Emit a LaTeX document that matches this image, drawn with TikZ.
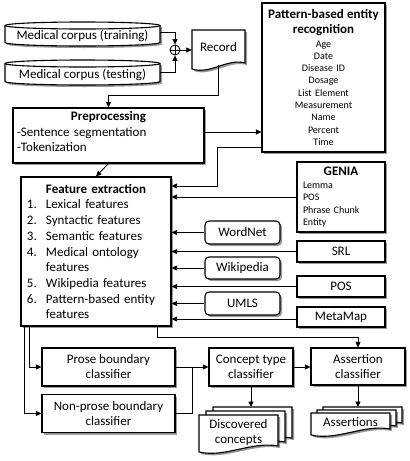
\documentclass[tikz,border=0pt]{standalone}
\usepackage{fontspec}
\setmainfont{Carlito}
\usetikzlibrary{arrows.meta,shadows,calc}
\tikzset{
  sh/.style={drop shadow={shadow xshift=2pt,shadow yshift=-2pt,opacity=0.4,fill=black}},
  box/.style={draw, line width=1.1pt, fill=white, sh, inner sep=0pt, font=\fontsize{13}{15}\selectfont, align=center},
  rbox/.style={box, rounded corners=4pt},
  arr/.style={line width=0.8pt, -{Triangle[length=5.5pt,width=5pt]}},
  ln/.style={line width=0.8pt},
  shp/.style={draw, line width=1.1pt, fill=white, sh},
  lbl/.style={inner sep=0pt, font=\fontsize{13}{15}\selectfont, align=center},
}
\newcommand\docfill[4]{\filldraw[shp] (#1,#2) -- (#3,#2) -- (#3,{#4-6}) .. controls ({#1+0.67*(#3-#1)},{#4-11}) and ({#1+0.33*(#3-#1)},{#4+6}) .. (#1,#4) -- cycle;}
\newcommand\cylfill[4]{%
  \filldraw[shp] (#1,{#2+3.5}) -- (#1,{#4-3.5}) arc[start angle=180,end angle=360,x radius={(#3-#1)/2*1pt},y radius=3.5pt] -- (#3,{#2+3.5}) arc[start angle=0,end angle=180,x radius={(#3-#1)/2*1pt},y radius=3.5pt] -- cycle;
  \draw[line width=1.1pt] (#1,{#2+3.5}) arc[start angle=180,end angle=360,x radius={(#3-#1)/2*1pt},y radius=3.5pt];}
\newcommand\ttl[1]{{\fontsize{13}{15}\selectfont\bfseries #1}}
\newcommand\itm[1]{\makebox[19pt][l]{#1}}
\begin{document}
\begin{tikzpicture}[x=1pt,y=-1pt]
\fill[white] (0,0) rectangle (410,461);
\useasboundingbox (0,0) rectangle (410,461);

% corpora
\cylfill{5}{22}{160}{46}
\node[lbl, minimum width=155pt, minimum height=24pt] (train) at (82.5,35.5) {Medical corpus (training)};
\cylfill{5}{60}{160}{85}
\node[lbl, minimum width=155pt, minimum height=25pt] (test) at (82.5,75) {Medical corpus (testing)};
\node[circle, draw, line width=0.9pt, minimum size=10pt, inner sep=0pt, fill=white] (sum) at (175,50) {};
\draw[line width=0.9pt] (sum.north) -- (sum.south) (sum.west) -- (sum.east);

% record
\docfill{192}{30}{245}{69}
\node[lbl, minimum width=53pt, minimum height=35pt] (rec) at (218.5,47.5) {Record};

% preprocessing
\node[box, minimum width=191pt, minimum height=55pt, text width=183pt, inner xsep=4pt, align=left, font=\fontsize{13}{15.5}\selectfont] (prep) at (108.5,135.5)
  {\makebox[183pt]{\bfseries Preprocessing}\\-Sentence segmentation\\-Tokenization\rule[-8pt]{0pt}{0pt}};

% pattern-based entity recognition
\node[box, minimum width=123pt, minimum height=149pt, text width=115pt, inner xsep=4pt, font=\fontsize{10}{12.3}\selectfont] (pat) at (323.5,77.5)
  {\ttl{Pattern-based entity}\\[2.7pt]\ttl{recognition}\\[1.2pt]Age\\Date\\Disease ID\\Dosage\\List Element\\Measurement\\Name\\Percent\\Time};

% GENIA
\node[box, minimum width=88pt, minimum height=70pt, text width=76pt, inner xsep=6pt, align=left, font=\fontsize{10}{12.3}\selectfont] (genia) at (341,197)
  {\makebox[76pt]{\ttl{GENIA}}\\[1pt]Lemma\\POS\\Phrase Chunk\\Entity};

% feature extraction
\node[box, minimum width=150pt, minimum height=149pt, text width=138pt, inner xsep=6pt, align=left, font=\fontsize{13}{15.7}\selectfont] (fe) at (96,251.5)
  {\makebox[138pt]{\bfseries Feature extraction}\\
   \itm{1.}Lexical features\\
   \itm{2.}Syntactic features\\
   \itm{3.}Semantic features\\
   \itm{4.}Medical ontology\\
   \itm{}features\\
   \itm{5.}Wikipedia features\\
   \itm{6.}Pattern-based entity\\
   \itm{}features};

% resources
\node[rbox, minimum width=75pt, minimum height=23pt] (wn) at (242.5,232.5) {WordNet};
\node[box, minimum width=88pt, minimum height=21pt] (srl) at (341,251.5) {SRL};
\node[rbox, minimum width=75pt, minimum height=22pt] (wp) at (242.5,268) {Wikipedia};
\node[box, minimum width=88pt, minimum height=21pt] (pos) at (341,286.5) {POS};
\node[rbox, minimum width=75pt, minimum height=23pt] (umls) at (242.5,303.5) {UMLS};
\node[box, minimum width=88pt, minimum height=20pt] (mm) at (341,317) {MetaMap};

% classifiers
\node[box, minimum width=133pt, minimum height=38pt] (pb) at (108.5,367) {Prose boundary\\classifier};
\node[box, minimum width=133pt, minimum height=38pt] (npb) at (108.5,413.5) {Non-prose boundary\\classifier};
\node[box, minimum width=84pt, minimum height=38pt] (ct) at (251,367) {Concept type\\classifier};
\node[box, minimum width=94pt, minimum height=37pt] (ac) at (358,366.5) {Assertion\\classifier};

% outputs
\docfill{213}{407}{292}{444}
\docfill{206}{411}{285}{448}
\docfill{199}{415}{278}{452}
\node[lbl] (dc) at (238.5,432.5) {Discovered\\concepts};
\docfill{323}{407}{402}{429}
\docfill{317}{410}{396}{432}
\docfill{311}{413}{390}{435}
\node[lbl] (asr) at (350.5,422) {Assertions};

% connectors
\draw[arr] ([yshift=3.5pt]train.east) -| (sum.north);
\draw[arr] ([yshift=3pt]test.east) -| (sum.south);
\draw[arr] (sum.east) -- (sum.east -| rec.west);
\draw[arr] (rec.south) -- ++(0,30) -| (prep.north);
\draw[arr] (prep.east |- 0,132) -- (pat.west |- 0,132);
\draw[arr] (pat.west |- 0,147) -| (217,186) -- (fe.east |- 0,186);
\draw[arr] (prep.south) -- (fe.north);
\foreach \n in {genia,wn,srl,wp,pos,umls}
  \draw[arr] (\n.west) -- (fe.east |- \n.west);
\draw[arr] ([yshift=-2pt]mm.west) -- (fe.east |- 0,319);
\draw[arr] ([xshift=9pt]fe.south west) |- (pb.west);
\draw[arr] ([xshift=4pt]fe.south west) |- (npb.west);
\draw[arr] ([xshift=-14pt]fe.south east) -- ++(0,11) -| (ac.north);
\draw[arr] (pb.east) -- (ct.west);
\draw[ln] (npb.east) -| ($(pb.east)!0.5!(ct.west)$);
\draw[arr] (ct.east) -- (ct.east -| ac.west);
\draw[arr] (ct.south) -- (ct.south |- 0,407);
\draw[arr] (ac.south) -- (ac.south |- 0,407);
\end{tikzpicture}
\end{document}
